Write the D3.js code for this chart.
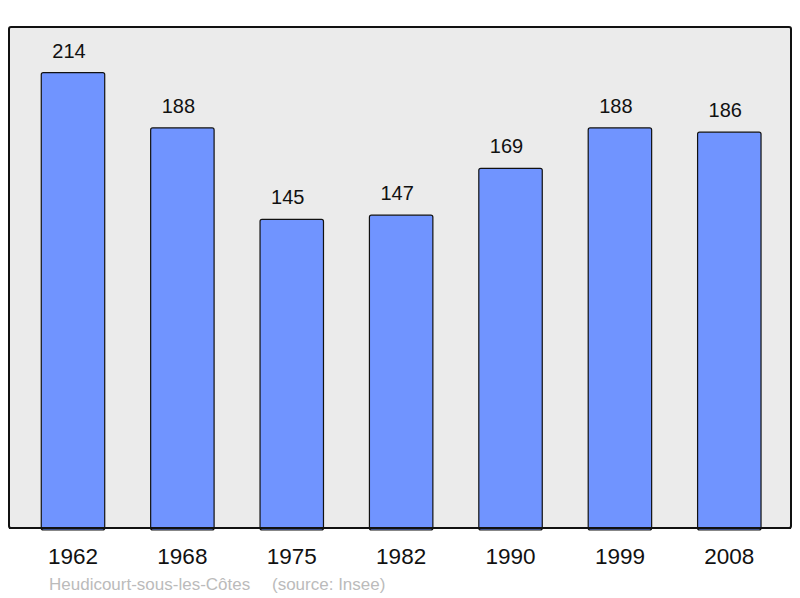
<!DOCTYPE html>
<html>
<head>
<meta charset="utf-8">
<script src="https://cdn.jsdelivr.net/npm/d3@7"></script>
<style>
  body { margin: 0; background: #fff; }
  text { font-family: "Liberation Sans", Arial, sans-serif; }
</style>
</head>
<body>
<svg width="800" height="598"></svg>
<script>
// population by census year
const years = ["1962", "1968", "1975", "1982", "1990", "1999", "2008"];
const population = [214, 188, 145, 147, 169, 188, 186];
const placeName = "Heudicourt-sous-les-Côtes";
const sourceNote = "(source: Insee)";

const frame = {left: 9, top: 27, right: 791, bottom: 528};

const svg = d3.select("svg");

// grey plot frame
svg.append("rect")
   .attr("x", frame.left)
   .attr("y", frame.top)
   .attr("width", frame.right - frame.left)
   .attr("height", frame.bottom - frame.top)
   .attr("rx", 2)
   .attr("fill", "#ebebeb")
   .attr("stroke", "#111")
   .attr("stroke-width", 2);

const x = d3.scaleBand()
            .domain(years)
            .range([18.3, 784])
            .paddingInner(0.42)
            .paddingOuter(0.21);

const y = d3.scaleLinear()
            .domain([0, d3.max(population) * 1.1])
            .range([frame.bottom, frame.top]);

const data = years.map((yr, i) => ({year: yr, value: population[i]}));

// bars
svg.append("g")
   .selectAll("rect")
   .data(data)
   .join("rect")
   .attr("x", d => x(d.year))
   .attr("y", d => y(d.value))
   .attr("width", x.bandwidth())
   .attr("height", d => frame.bottom - y(d.value) + 2)
   .attr("rx", 2)
   .attr("fill", "#7094ff")
   .attr("stroke", "#111")
   .attr("stroke-width", 1.2);

// redraw frame bottom line over bars
svg.append("line")
   .attr("x1", frame.left)
   .attr("x2", frame.right)
   .attr("y1", frame.bottom)
   .attr("y2", frame.bottom)
   .attr("stroke", "#111")
   .attr("stroke-width", 2);

// value labels (sit a little left of bar centre, like the original)
svg.append("g")
   .selectAll("text")
   .data(data)
   .join("text")
   .attr("x", d => x(d.year) + x.bandwidth() / 2 - 4)
   .attr("y", d => y(d.value) - 15)
   .attr("text-anchor", "middle")
   .attr("font-size", 20)
   .attr("fill", "#111")
   .text(d => d.value);

// year labels
svg.append("g")
   .selectAll("text")
   .data(years)
   .join("text")
   .attr("x", d => x(d) + x.bandwidth() / 2)
   .attr("y", 564)
   .attr("text-anchor", "middle")
   .attr("font-size", 22.5)
   .attr("fill", "#111")
   .text(d => d);

// footer
const footer = svg.append("g")
   .attr("font-size", 17)
   .attr("fill", "#bbb");
footer.append("text")
   .attr("x", 49)
   .attr("y", 590)
   .text(placeName);
footer.append("text")
   .attr("x", 272)
   .attr("y", 590)
   .text(sourceNote);
</script>
</body>
</html>
